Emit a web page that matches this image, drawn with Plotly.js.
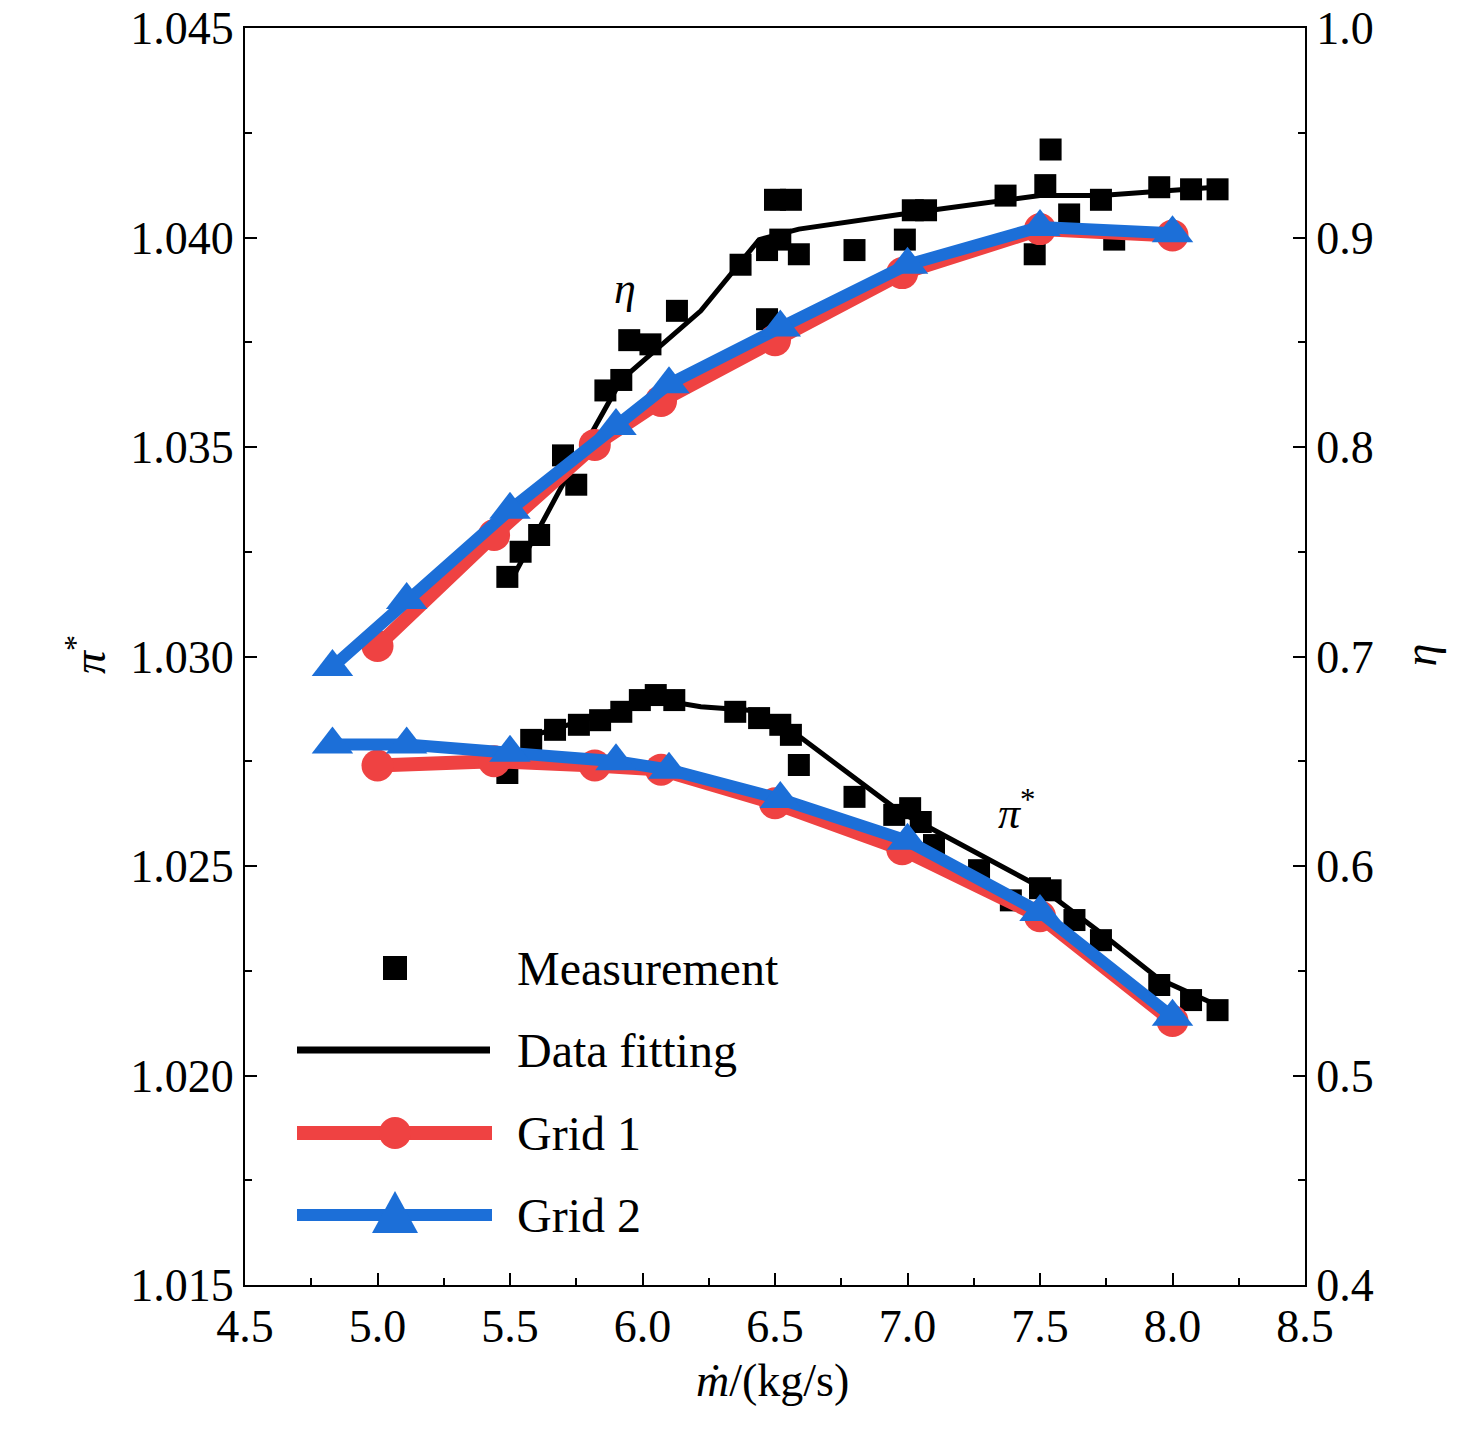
<!DOCTYPE html>
<html><head><meta charset="utf-8">
<script src="https://cdn.plot.ly/plotly-3.0.1.min.js"></script>
<style>body{margin:0;background:#fff}</style></head>
<body><div id="chart" style="width:1476px;height:1443px"></div>
<script>
// Grid 1 / Grid 2 CFD results
const grid1X = [5.0, 5.44, 5.82, 6.07, 6.5, 6.98, 7.5, 8.0];
const grid1Eta = [0.705, 0.758, 0.801, 0.822, 0.851, 0.883, 0.904, 0.901];
const grid1Pi = [1.0274, 1.0275, 1.0274, 1.0273, 1.0265, 1.0254, 1.0238, 1.0213];
const grid2X = [4.83, 5.11, 5.5, 5.9, 6.1, 6.52, 7.0, 7.5, 8.0];
const grid2Eta = [0.695, 0.727, 0.770, 0.810, 0.830, 0.857, 0.887, 0.905, 0.902];
const grid2Pi = [1.0279, 1.0279, 1.0277, 1.0275, 1.0273, 1.0266, 1.0256, 1.0239, 1.0214];

// Measurements
const measEtaX = [5.49,5.54,5.61,5.70,5.75,5.86,5.92,5.95,6.03,6.13,6.37,6.47,6.50,6.56,6.52,6.59,6.47,6.80,6.99,7.02,7.07,7.37,7.48,7.52,7.54,7.61,7.73,7.78,7.95,8.07,8.17];
const measEta = [0.738,0.750,0.758,0.796,0.782,0.827,0.832,0.851,0.849,0.865,0.887,0.894,0.918,0.918,0.899,0.892,0.861,0.894,0.899,0.913,0.913,0.920,0.892,0.925,0.942,0.911,0.918,0.899,0.924,0.923,0.923];
const measPiX = [5.49,5.58,5.67,5.76,5.84,5.92,5.99,6.05,6.12,6.35,6.44,6.52,6.56,6.59,6.80,6.95,7.01,7.05,7.10,7.27,7.39,7.50,7.54,7.63,7.73,7.95,8.07,8.17];
const measPi = [1.02722,1.02801,1.02825,1.02837,1.02848,1.02868,1.02896,1.02908,1.02896,1.02868,1.02853,1.02837,1.02813,1.02741,1.02665,1.02622,1.02638,1.02605,1.02550,1.02490,1.02418,1.02447,1.02442,1.02371,1.02323,1.02216,1.02180,1.02156];

// Data fitting
const fitEtaX = [5.52, 5.69, 5.92, 6.22, 6.44, 6.59, 6.97, 7.5, 7.73, 8.16];
const fitEta = [0.740, 0.780, 0.832, 0.865, 0.899, 0.904, 0.911, 0.920, 0.920, 0.924];
const fitPiX = [5.49, 5.58, 5.84, 6.03, 6.22, 6.44, 6.59, 6.97, 7.5, 7.73, 7.95, 8.16];
const fitPi = [1.0272, 1.0281, 1.0286, 1.0290, 1.0288, 1.0287, 1.0281, 1.0263, 1.0245, 1.0234, 1.0223, 1.0217];

const RED = '#ef4242', BLUE = '#1c6fd8';
const FONT = 'Liberation Serif, Times New Roman, serif';

const gridTrace = (x, y, axis, color, symbol, size, w) => ({
  type: 'scatter', mode: 'lines+markers', x, y, yaxis: axis,
  line: {color, width: w}, marker: {color, symbol, size}, showlegend: false
});

const traces = [
  {type:'scatter', mode:'lines', x: fitEtaX, y: fitEta, yaxis:'y2', line:{color:'#000', width:5}, showlegend:false},
  {type:'scatter', mode:'lines', x: fitPiX, y: fitPi, line:{color:'#000', width:5}, showlegend:false},
  {type:'scatter', mode:'markers', x: measEtaX, y: measEta, yaxis:'y2', marker:{color:'#000', symbol:'square', size:22}, showlegend:false},
  {type:'scatter', mode:'markers', x: measPiX, y: measPi, marker:{color:'#000', symbol:'square', size:22}, showlegend:false},
  gridTrace(grid1X, grid1Eta, 'y2', RED, 'circle', 32, 14),
  gridTrace(grid1X, grid1Pi, 'y', RED, 'circle', 32, 14),
  gridTrace(grid2X, grid2Eta, 'y2', BLUE, 'triangle-up', 36, 12),
  gridTrace(grid2X, grid2Pi, 'y', BLUE, 'triangle-up', 36, 12)
];

// manual legend (paper coords from pixels)
const W = 1060, H = 1257;
const px = v => (v - 245) / W, py = v => (1285 - v) / H;
const rows = [968, 1050, 1133, 1215];
const names = ['Measurement', 'Data fitting', 'Grid 1', 'Grid 2'];
const shapes = [
  {type:'rect', xref:'paper', yref:'paper', x0:px(383), x1:px(407), y0:py(980), y1:py(956), fillcolor:'#000', line:{width:0}},
  {type:'line', xref:'paper', yref:'paper', x0:px(297), x1:px(490), y0:py(rows[1]), y1:py(rows[1]), line:{color:'#000', width:7}},
  {type:'line', xref:'paper', yref:'paper', x0:px(297), x1:px(492), y0:py(rows[2]), y1:py(rows[2]), line:{color:RED, width:14}},
  {type:'circle', xref:'paper', yref:'paper', x0:px(379), x1:px(411), y0:py(rows[2]+16), y1:py(rows[2]-16), fillcolor:RED, line:{width:0}},
  {type:'line', xref:'paper', yref:'paper', x0:px(297), x1:px(492), y0:py(rows[3]), y1:py(rows[3]), line:{color:BLUE, width:12}},
  {type:'path', xref:'paper', yref:'paper', path:`M ${px(372)} ${py(1233)} L ${px(418)} ${py(1233)} L ${px(395)} ${py(1191)} Z`, fillcolor:BLUE, line:{width:0}}
];
const annotations = names.map((n, i) => ({
  xref:'paper', yref:'paper', x:px(515), y:py(rows[i]), xanchor:'left', yanchor:'middle',
  text:n, showarrow:false, font:{family:FONT, size:48, color:'#000'}
}));
annotations.push(
  {xref:'paper', yref:'paper', x:px(625), y:py(262), text:'<i>η</i>', showarrow:false, font:{family:FONT, size:44, color:'#000'}},
  {xref:'paper', yref:'paper', x:px(1037), y:py(810), text:'<i>π</i><sup>*</sup>', showarrow:false, font:{family:FONT, size:44, color:'#000'}},
  {xref:'paper', yref:'paper', x:px(55), y:py(655), text:'<i>π</i><sup>*</sup>', textangle:-90, showarrow:false, font:{family:FONT, size:46, color:'#000'}},
  {xref:'paper', yref:'paper', x:px(1447), y:py(655), text:'<i>η</i>', textangle:-90, showarrow:false, font:{family:FONT, size:46, color:'#000'}},
  {xref:'paper', yref:'paper', x:px(772), y:py(1408), text:'<i>ṁ</i>/(kg/s)', showarrow:false, font:{family:FONT, size:46, color:'#000'}}
);

const axBase = {
  ticks:'inside', ticklen:12, tickwidth:2, tickcolor:'#000', showline:true, linecolor:'#000', linewidth:2,
  showgrid:false, zeroline:false, tickfont:{family:FONT, size:46, color:'#000'}
};
const layout = {
  width:1476, height:1443, margin:{l:245, r:171, t:28, b:158},
  paper_bgcolor:'#fff', plot_bgcolor:'#fff', showlegend:false,
  xaxis: {...axBase, range:[4.5, 8.5], dtick:0.5, tick0:4.5, tickformat:'.1f', mirror:true,
    minor:{ticks:'inside', ticklen:7, tickwidth:2, tickcolor:'#000', dtick:0.25}},
  yaxis: {...axBase, range:[1.015, 1.045], dtick:0.005, tick0:1.015, tickformat:'.3f',
    minor:{ticks:'inside', ticklen:7, tickwidth:2, tickcolor:'#000', dtick:0.0025}},
  yaxis2: {...axBase, overlaying:'y', side:'right', range:[0.4, 1.0], dtick:0.1, tick0:0.4, tickformat:'.1f',
    minor:{ticks:'inside', ticklen:7, tickwidth:2, tickcolor:'#000', dtick:0.05}},
  shapes, annotations
};
Plotly.newPlot('chart', traces, layout, {displayModeBar:false});
</script></body></html>
